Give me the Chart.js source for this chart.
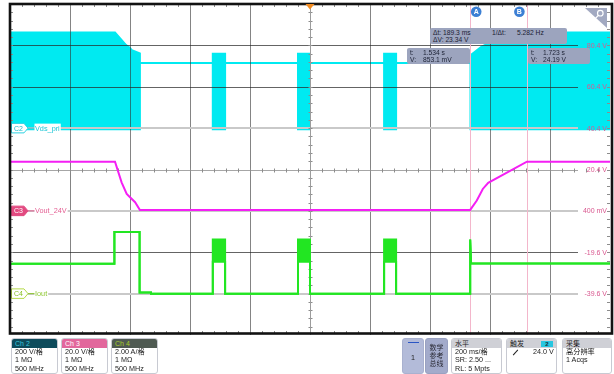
<!DOCTYPE html>
<html>
<head>
<meta charset="utf-8">
<title>Vds_pri / Vout_24V / Iout</title>
<script src="https://cdn.jsdelivr.net/npm/chart.js@4.4.0/dist/chart.umd.min.js"></script>
<style>
  html, body { margin: 0; padding: 0; background: #fff; }
  #scope { position: relative; width: 614px; height: 374px; overflow: hidden;
           font-family: 'Liberation Sans', 'Noto Sans CJK SC', sans-serif; }
  #plot { position: absolute; left: 0; top: 0; }
  .meas { position: absolute; background: #9ca4be; border-radius: 2px; color: #1b2033;
          font-size: 6.7px; line-height: 7px; }
  .meas span { position: absolute; white-space: nowrap; }
  .card { position: absolute; top: 338px; height: 36px; border: 1px solid #c8cad2; border-radius: 3px;
          background: #fff; box-sizing: border-box; overflow: hidden; }
  .card .hd { height: 9px; font-size: 7px; line-height: 9px; padding-left: 3px; white-space: nowrap; position: relative; }
  .card .ln { font-size: 7.2px; line-height: 8.3px; padding-left: 3px; color: #222; white-space: nowrap; }
  .hd.gray { background: #cfd0d6; color: #1e1e24; }
  .badge { position: absolute; right: 3px; top: 1.5px; width: 12px; height: 6px; background: #27c6e0;
           color: #10303a; font-size: 6px; line-height: 6px; text-align: center; font-weight: bold; }
  .slope { display: inline-block; width: 7px; height: 0; border-top: 1px solid #222; transform: rotate(-48deg);
           vertical-align: middle; margin-right: 14px; margin-left: 2px; }
</style>
</head>
<body>
<div id="scope">
  <canvas id="plot" width="614" height="374"></canvas>

  <!-- cursor readouts -->
  <div class="meas" style="left:430px;top:28px;width:137px;height:16px;">
    <span style="left:3px;top:1px;">Δt: 189.3 ms</span>
    <span style="left:62px;top:1px;">1/Δt:</span>
    <span style="left:87px;top:1px;">5.282 Hz</span>
    <span style="left:3px;top:8px;">ΔV: 23.34 V</span>
  </div>
  <div class="meas" style="left:407px;top:48px;width:63px;height:16px;">
    <span style="left:3px;top:1px;">t:</span><span style="left:16px;top:1px;">1.534 s</span>
    <span style="left:3px;top:8px;">V:</span><span style="left:16px;top:8px;">853.1 mV</span>
  </div>
  <div class="meas" style="left:528px;top:48px;width:62px;height:16px;">
    <span style="left:3px;top:1px;">t:</span><span style="left:15px;top:1px;">1.723 s</span>
    <span style="left:3px;top:8px;">V:</span><span style="left:15px;top:8px;">24.19 V</span>
  </div>

  <!-- channel cards -->
  <div class="card" style="left:11px;width:47px;">
    <div class="hd" style="background:#0e4b5b;color:#35c8de;">Ch 2</div>
    <div class="ln">200 V/格</div><div class="ln">1 MΩ</div><div class="ln">500 MHz</div>
  </div>
  <div class="card" style="left:61px;width:47px;">
    <div class="hd" style="background:#e2679c;color:#fff;">Ch 3</div>
    <div class="ln">20.0 V/格</div><div class="ln">1 MΩ</div><div class="ln">500 MHz</div>
  </div>
  <div class="card" style="left:111px;width:47px;">
    <div class="hd" style="background:#4f5a52;color:#a9cc2a;">Ch 4</div>
    <div class="ln">2.00 A/格</div><div class="ln">1 MΩ</div><div class="ln">500 MHz</div>
  </div>

  <!-- right-hand control cards -->
  <div class="card" style="left:402px;width:22px;background:#b3bbd9;border-color:#a9b1cf;">
    <div style="position:absolute;left:5px;top:3px;width:11px;height:1px;background:#2a55c4;"></div>
    <div style="position:absolute;left:0;width:20px;top:14px;text-align:center;font-size:7.2px;color:#222;">1</div>
  </div>
  <div class="card" style="left:425px;width:23px;background:#a3abcb;border-color:#99a1c1;">
    <div style="text-align:center;font-size:7px;line-height:8.2px;color:#2a2a35;padding-top:5px;">数学<br>参考<br>总线</div>
  </div>
  <div class="card" style="left:451px;width:51px;">
    <div class="hd gray">水平</div>
    <div class="ln">200 ms/格</div><div class="ln">SR: 2.50 ...</div><div class="ln">RL: 5 Mpts</div>
  </div>
  <div class="card" style="left:506px;width:51px;">
    <div class="hd gray">触发<span class="badge">2</span></div>
    <div class="ln"><span class="slope"></span>24.0 V</div>
  </div>
  <div class="card" style="left:562px;width:50px;">
    <div class="hd gray">采集</div>
    <div class="ln">高分辨率</div><div class="ln">1 Acqs</div>
  </div>
</div>

<script>
// ---- Ch2  Vds_pri (V): switching envelope, upper and lower edge ----
const c2Time  = [0.000, 0.350, 0.387, 0.400, 0.406, 0.433, 0.433, 0.676, 0.676, 0.717, 0.717, 0.960, 0.960,
                 1.000, 1.000, 1.247, 1.247, 1.287, 1.287, 1.535, 1.535, 1.572, 1.633, 1.723, 2.000];
const c2Upper = [462, 462, 401, 387, 377, 361, 315, 315, 360, 360, 315, 315, 360,
                 360, 315, 315, 360, 360, 315, 315, 352, 394, 435, 462, 462];
const c2Lower = [-6, -6, -6, -6, -6, -6, 315, 315, -6, -6, 315, 315, -6,
                 -6, 315, 315, -6, -6, 315, 315, -6, -6, -6, -6, -6];

// ---- Ch3  Vout_24V (V) ----
const c3Time  = [0.000, 0.350, 0.372, 0.389, 0.400, 0.417, 0.433, 1.534, 1.556, 1.576, 1.594, 1.723, 2.000];
const c3Volts = [24.2, 24.2, 14.2, 8.6, 7.0, 4.6, 0.85, 0.85, 5.4, 11.0, 13.95, 24.2, 24.2];

// ---- Ch4  Iout (A): ripple band, upper and lower edge ----
const c4Time  = [0.000, 0.348, 0.348, 0.432, 0.432, 0.470, 0.470, 0.676, 0.676, 0.717, 0.717, 0.960,
                 0.960, 1.000, 1.000, 1.247, 1.247, 1.287, 1.287, 1.534, 1.534, 1.537, 2.000];
const c4Upper = [1.45, 1.45, 2.98, 2.98, 0.06, 0.06, 0, 0, 2.62, 2.62, 0, 0,
                 2.62, 2.62, 0, 0, 2.62, 2.62, 0, 0, 2.62, 1.46, 1.46];
const c4Lower = [1.45, 1.45, 2.98, 2.98, 0.06, 0.06, 0, 0, 1.54, 1.54, 0, 0,
                 1.54, 1.54, 0, 0, 1.54, 1.54, 0, 0, 2.62, 1.46, 1.46];

// graticule: 200 ms per division, Ch3 levels labelled on the right
const divisionTimes = [0.2, 0.4, 0.6, 0.8, 1.0, 1.2, 1.4, 1.6, 1.8];
const c3TickValues  = [80.4, 60.4, 40.4, 20.4, 0.4, -19.6, -39.6];
const c3TickLabels  = ['80.4 V', '60.4 V', '40.4 V', '20.4 V', '400 mV', '-19.6 V', '-39.6 V'];

// cursors, trigger and channel reference levels
const cursorA = 1.534, cursorB = 1.723;
const triggerTime = 1.0;
const c2Ref = 0, c3Ref = 0.4, c4Ref = 0;
const centreLevelC3 = 20.4;

const CYAN = '#00eaf1', MAGENTA = '#f41ff4', GREEN = '#22e622';

const pts = (xs, ys) => xs.map((t, i) => ({ x: t, y: ys[i] }));

function tag(ctx, y, text, fill, stroke, textColor) {
  const x0 = 11.5, w = 16.5, h = 9.5, tip = 4;
  ctx.beginPath();
  ctx.moveTo(x0, y - h / 2);
  ctx.lineTo(x0 + w - tip, y - h / 2);
  ctx.lineTo(x0 + w, y);
  ctx.lineTo(x0 + w - tip, y + h / 2);
  ctx.lineTo(x0, y + h / 2);
  ctx.closePath();
  ctx.fillStyle = fill; ctx.fill();
  ctx.lineWidth = 1; ctx.strokeStyle = stroke; ctx.stroke();
  ctx.fillStyle = textColor;
  ctx.font = '7px "Liberation Sans", sans-serif';
  ctx.textAlign = 'left'; ctx.textBaseline = 'middle';
  ctx.fillText(text, x0 + 2.5, y + 0.5);
}

function channelName(ctx, y, text, color) {
  ctx.font = '7.3px "Liberation Sans", sans-serif';
  const w = ctx.measureText(text).width;
  ctx.strokeStyle = color; ctx.lineWidth = 1;
  ctx.beginPath(); ctx.moveTo(28, y); ctx.lineTo(35, y); ctx.stroke();
  ctx.fillStyle = '#fff'; ctx.fillRect(34.5, y - 4.5, w + 1.5, 9);
  ctx.fillStyle = color; ctx.textAlign = 'left'; ctx.textBaseline = 'middle';
  ctx.fillText(text, 35, y + 0.5);
}

const scopeOverlay = {
  id: 'scopeOverlay',
  // graticule and cursor lines sit on top of the Ch2 envelope, under Ch3/Ch4
  afterDatasetDraw(chart, args) {
    if (args.index !== 3) return;
    const { ctx, chartArea: a, scales: { x, yC2, yC3, yC4 } } = chart;
    ctx.save();
    ctx.lineWidth = 1;
    ctx.strokeStyle = 'rgba(50,50,50,0.6)';
    divisionTimes.forEach(t => {
      const px = Math.round(x.getPixelForValue(t)) + 0.5;
      ctx.beginPath(); ctx.moveTo(px, a.top); ctx.lineTo(px, a.bottom); ctx.stroke();
    });
    const refPix = [yC2.getPixelForValue(c2Ref), yC3.getPixelForValue(c3Ref), yC4.getPixelForValue(c4Ref)];
    const lineEnd = a.left + 568;
    c3TickValues.forEach(v => {
      const py = yC3.getPixelForValue(v);
      const isRef = refPix.some(r => Math.abs(r - py) < 2);
      const isCentre = v === centreLevelC3;
      ctx.lineWidth = isRef ? 2 : 1;
      ctx.strokeStyle = isRef ? '#c9c9c9' : (isCentre ? '#a6a6a6' : 'rgba(40,40,40,0.72)');
      const yy = isRef ? Math.round(py) : Math.round(py) + 0.5;
      ctx.beginPath(); ctx.moveTo(a.left, yy); ctx.lineTo(lineEnd, yy); ctx.stroke();
    });
    // minor ticks on the centre cross and along the frame
    ctx.strokeStyle = '#8c8c8c'; ctx.lineWidth = 1;
    const cx = Math.round(x.getPixelForValue(triggerTime)) + 0.5;
    const cy = Math.round(yC3.getPixelForValue(centreLevelC3)) + 0.5;
    const divX = x.getPixelForValue(0.2) - x.getPixelForValue(0);
    const divY = yC3.getPixelForValue(0.4) - yC3.getPixelForValue(20.4);
    for (let px = a.left + divX / 5; px < a.right - 1; px += divX / 5) {
      const p = Math.round(px) + 0.5;
      ctx.beginPath(); ctx.moveTo(p, cy - 2); ctx.lineTo(p, cy + 2); ctx.stroke();
      ctx.beginPath(); ctx.moveTo(p, a.top); ctx.lineTo(p, a.top + 3); ctx.stroke();
      ctx.beginPath(); ctx.moveTo(p, a.bottom - 4); ctx.lineTo(p, a.bottom - 1); ctx.stroke();
    }
    for (let py = a.top + divY / 5; py < a.bottom - 1; py += divY / 5) {
      const p = Math.round(py) + 0.5;
      ctx.beginPath(); ctx.moveTo(cx - 2, p); ctx.lineTo(cx + 2, p); ctx.stroke();
      ctx.beginPath(); ctx.moveTo(a.left, p); ctx.lineTo(a.left + 3, p); ctx.stroke();
      ctx.beginPath(); ctx.moveTo(a.right - 3, p); ctx.lineTo(a.right, p); ctx.stroke();
    }
    ctx.strokeStyle = '#9c9c9c';
    ctx.beginPath(); ctx.moveTo(cx, a.top); ctx.lineTo(cx, a.bottom); ctx.stroke();
    // cursors A and B
    ctx.strokeStyle = '#f3b6cb';
    [cursorA, cursorB].forEach(t => {
      const px = Math.round(x.getPixelForValue(t)) + 0.5;
      ctx.beginPath(); ctx.moveTo(px, a.top); ctx.lineTo(px, a.bottom); ctx.stroke();
    });
    ctx.restore();
  },
  afterDatasetsDraw(chart) {
    const { ctx, chartArea: a, scales: { x, yC2, yC3, yC4 } } = chart;
    ctx.save();
    // Ch3 level labels
    ctx.font = '7px "Liberation Sans", sans-serif';
    ctx.fillStyle = '#d9578f';
    ctx.textAlign = 'right'; ctx.textBaseline = 'middle';
    c3TickValues.forEach((v, i) => ctx.fillText(c3TickLabels[i], a.right - 3, yC3.getPixelForValue(v) + 0.5));
    // channel markers
    const y2 = yC2.getPixelForValue(c2Ref), y3 = yC3.getPixelForValue(c3Ref), y4 = yC4.getPixelForValue(c4Ref);
    tag(ctx, y2, 'C2', '#ffffff', '#2fd3e3', '#1fbccc');
    channelName(ctx, y2, 'Vds_pri', '#1fc7d6');
    tag(ctx, y3, 'C3', '#e24a80', '#e24a80', '#ffffff');
    channelName(ctx, y3, 'Vout_24V', '#e45f93');
    tag(ctx, y4, 'C4', '#ffffff', '#b5da4a', '#86be22');
    channelName(ctx, y4, 'Iout', '#8ec631');
    // frame
    ctx.strokeStyle = '#121212'; ctx.lineWidth = 2.6;
    ctx.strokeRect(a.left, a.top, a.right + 2 - a.left, a.bottom - 1.5 - a.top);
    // trigger position
    const tx = x.getPixelForValue(triggerTime);
    ctx.fillStyle = '#f28c22';
    ctx.beginPath(); ctx.moveTo(tx - 4.5, a.top); ctx.lineTo(tx + 4.5, a.top); ctx.lineTo(tx, a.top + 5.5); ctx.closePath(); ctx.fill();
    // cursor badges
    [['A', x.getPixelForValue(cursorA) + 6], ['B', x.getPixelForValue(cursorB) - 7.5]].forEach(([s, bx]) => {
      ctx.fillStyle = '#3c7fd4';
      ctx.beginPath(); ctx.arc(bx, 11.7, 5.3, 0, Math.PI * 2); ctx.fill();
      ctx.fillStyle = '#fff'; ctx.font = 'bold 7px "Liberation Sans", sans-serif';
      ctx.textAlign = 'center'; ctx.textBaseline = 'middle';
      ctx.fillText(s, bx, 12);
    });
    // zoom corner
    ctx.fillStyle = '#a2a9c1';
    ctx.beginPath(); ctx.moveTo(585, 8); ctx.lineTo(607, 8); ctx.lineTo(607, 28); ctx.closePath(); ctx.fill();
    ctx.strokeStyle = '#fff'; ctx.lineWidth = 1.2;
    ctx.beginPath(); ctx.arc(600.3, 13.2, 2.8, 0, Math.PI * 2); ctx.stroke();
    ctx.beginPath(); ctx.moveTo(598.3, 15.3); ctx.lineTo(595.2, 18.6); ctx.stroke();
    ctx.restore();
  }
};

const line = (label, data, color, yAxisID, extra) => Object.assign({
  label, data, yAxisID, borderColor: color, backgroundColor: color,
  borderWidth: 2, pointRadius: 0, tension: 0, fill: false
}, extra || {});

new Chart(document.getElementById('plot'), {
  type: 'line',
  data: {
    datasets: [
      line('Iout max', pts(c4Time, c4Upper), GREEN, 'yC4', { fill: '+1' }),
      line('Iout min', pts(c4Time, c4Lower), GREEN, 'yC4'),
      line('Vout_24V', pts(c3Time, c3Volts), MAGENTA, 'yC3'),
      line('Vds_pri max', pts(c2Time, c2Upper), CYAN, 'yC2', { fill: '+1' }),
      line('Vds_pri min', pts(c2Time, c2Lower), CYAN, 'yC2')
    ]
  },
  options: {
    responsive: false,
    animation: false,
    devicePixelRatio: 1,
    layout: { padding: { left: 10, top: 4, right: 4, bottom: 39 } },
    plugins: { legend: { display: false }, tooltip: { enabled: false } },
    scales: {
      x:   { type: 'linear', display: false, min: 0, max: 2.0 },
      yC2: { type: 'linear', display: false, min: -1000, max: 600 },   // 200 V/div
      yC3: { type: 'linear', display: false, min: -59.6, max: 100.4 }, // 20 V/div
      yC4: { type: 'linear', display: false, min: -2, max: 14 }        // 2 A/div
    }
  },
  plugins: [scopeOverlay]
});
</script>
</body>
</html>
